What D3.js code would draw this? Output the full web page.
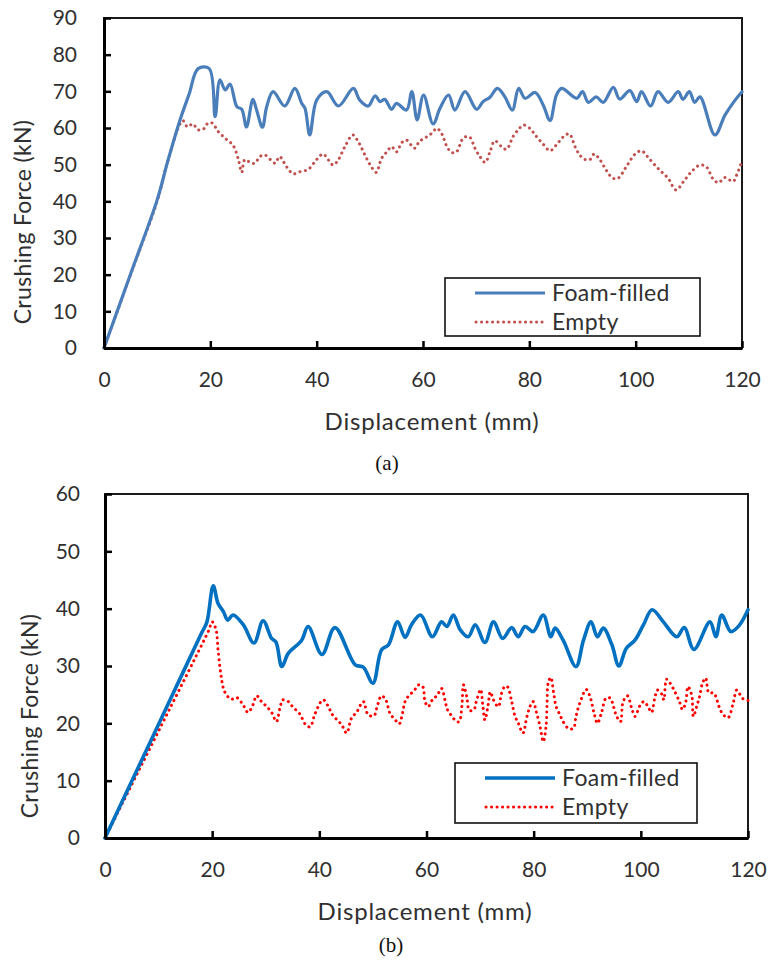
<!DOCTYPE html>
<html>
<head>
<meta charset="utf-8">
<script src="https://cdn.jsdelivr.net/npm/d3@7"></script>
<style>
  html, body { margin: 0; padding: 0; background: #fff; }
  svg { display: block; }
</style>
</head>
<body>
<svg id="chart" width="771" height="963"></svg>
<script>
// Tick values
const dispTicks = [0, 20, 40, 60, 80, 100, 120];
const forceTicksA = [0, 10, 20, 30, 40, 50, 60, 70, 80, 90];
const forceTicksB = [0, 10, 20, 30, 40, 50, 60];
const seriesNames = ["Foam-filled", "Empty"];

// Panel (a): [displacement mm, force kN]
const foamFilledA = [[0,0],[5,20.2],[10,40.4],[12,51],[14.3,62.2],[16,69.2],[17.7,76.2],[19.8,76.2],[20.9,63.1],[21.8,73.1],[22.8,70.4],[23.7,72],[25,65.8],[25.9,65.1],[26.8,60.3],[28,67.8],[28.7,64.9],[29.8,60.2],[30.6,65.8],[31.8,69.9],[34,66],[35.9,70.8],[37.2,66.7],[37.8,65.4],[38.7,58.1],[40,67.6],[41.9,69.9],[44.1,66],[46.9,70.8],[48.1,67.6],[49.7,66],[51,68.8],[51.9,67.2],[52.8,67.8],[54.1,65.1],[55,66.7],[56.9,64.9],[57.9,69.9],[58.9,62.2],[60.1,69],[61.9,61.1],[63.2,65.4],[64.8,69],[66,64.9],[67.9,69.9],[70.1,65.1],[71.3,67.2],[72.6,68.4],[74,70.8],[75.4,68.5],[76.8,64.9],[78,70.8],[79.2,68.1],[81.1,69.7],[82.6,66.3],[83.9,62],[85.1,69],[86.1,70.8],[88.9,68.1],[90,69.9],[91.1,67],[92.6,68.5],[93.9,67],[95.8,71.1],[97,67.9],[98.9,70.2],[100.2,67.2],[101.1,69.9],[102.8,66],[104.2,69.9],[106.1,67],[108,69.9],[108.9,67.8],[110.1,69.9],[111.1,67],[112.1,68.5],[114.9,58.1],[116.8,63.5],[118.7,67.6],[120,69.9]];
const emptyA = [[0,0],[5,20],[10,40],[12,51],[14.8,62],[15.7,60.3],[16.7,61.1],[17.7,59.5],[18.7,59.7],[19.6,61.4],[20.4,61.3],[21.5,59],[22.8,57.2],[24.3,55.2],[25.3,51.3],[25.9,47.9],[26.5,51.4],[27.5,50.6],[28.4,50.4],[29.3,52.2],[30.3,52.6],[32.2,50.4],[33,52.2],[34.4,49.3],[35.6,47.5],[36.9,48.1],[38.4,48.7],[40,51.4],[41.2,52.9],[42.2,51.3],[43.1,49.9],[44.1,51.4],[45.3,54.9],[46.8,58.1],[47.8,56.3],[49.4,51.7],[50.3,49.4],[51.2,47.9],[52.2,51.7],[53.2,53.5],[54.1,54.9],[55,53.5],[56,56],[56.9,56.7],[57.9,55.1],[58.5,54.5],[59.3,56.3],[60.4,57.3],[61.6,58.5],[62.6,59.9],[63.5,58.5],[64.5,54.9],[65.4,53.3],[66.3,53.5],[67.6,57.3],[68.7,57.6],[69.8,54.4],[70.7,52.2],[71.7,50.6],[72.6,53.5],[73.5,56.5],[74.8,54.9],[75.7,54.2],[77,57.8],[77.9,59.5],[78.9,60.8],[80.1,59.9],[81.1,58.1],[82.6,55.6],[83.9,53.8],[85.1,55.4],[86.4,57.6],[87.5,58.4],[88.6,54.9],[89.5,52.6],[90.5,51.4],[91.4,51.4],[92.2,52.9],[93.3,51.3],[94.5,48.4],[95.7,46.3],[96.7,46.3],[98.3,49.6],[99.9,52.9],[101.1,53.8],[102.1,52.4],[103.3,50.4],[104.6,48.4],[106.1,46.3],[107.6,43.1],[109,45.4],[110.5,48.1],[112.1,49.9],[113.3,49.4],[114.6,46],[115.6,45.1],[116.8,46.5],[118.3,45.4],[119,47.2],[120,51]];

// Panel (b)
const foamFilledB = [[0,0],[6,11.9],[12,23.8],[18,35.7],[19,37.6],[20.2,44],[21.1,40.9],[22.1,39.5],[22.9,38],[23.9,38.9],[25.8,37.2],[27.8,34],[29.5,37.9],[31.1,34.8],[31.9,34.2],[33,29.9],[34.2,32.2],[36.7,34.5],[37.9,36.9],[40.5,32],[42.9,36.7],[46.7,30.2],[48.2,29.8],[50,27],[51.6,32.8],[52.9,33.7],[54.6,37.7],[56,35],[57.2,37.2],[58.9,38.9],[61.1,35.1],[62.8,37.7],[63.8,36.9],[65,38.9],[66.3,36.3],[67.8,35.1],[69.1,37.2],[70.9,34.1],[72.5,37.7],[74.2,34.8],[75.9,36.7],[77.1,35.1],[78.4,36.9],[79.9,36],[81.8,38.9],[83.2,35.1],[84,36.6],[85.5,34.5],[87.9,29.9],[89.3,34.5],[90.7,37.7],[91.9,35.1],[93,36.6],[94.6,33.7],[95.9,30],[97.3,33.1],[98.9,34.5],[100.5,37.2],[102.1,39.8],[104.2,37.7],[106.7,35.1],[108.1,36.7],[109.9,32.9],[112.9,37.7],[114,35.1],[115.1,38.9],[116.8,36],[118.3,37],[120,39.8]];
const emptyB = [[0,0],[6,11.2],[12,22.4],[18,33.6],[19.4,36.3],[20,37.7],[20.7,36.4],[21.1,32.8],[21.6,28.7],[22.1,26.1],[22.7,24.9],[23.6,24.2],[24.6,24.5],[25.9,23],[26.7,21.9],[27.6,23.2],[28.3,24.8],[29.2,23.8],[30.2,22.9],[31.1,21.9],[32,20.3],[32.7,22.9],[33.2,24.1],[34.2,23.8],[35.1,22.8],[36.3,21.7],[37.5,19.7],[38.3,19.4],[39.2,21.7],[40.7,24.1],[41.7,22.9],[42.3,21.7],[43.2,20.7],[44.2,19.7],[45.1,18.3],[46,20.9],[47,22],[48.2,23.8],[49.1,21.5],[50.2,21.3],[50.7,22.6],[51.6,24.8],[52.4,24.1],[53.2,21.7],[54.1,20.7],[54.9,19.9],[55.4,21.2],[56,23.8],[56.6,24.7],[57.7,25.7],[58.5,26.7],[59.3,26.4],[59.7,23.9],[60.3,22.9],[61.1,24.1],[62,24.9],[62.8,26.1],[63.5,23.8],[63.9,22.4],[64.7,21.3],[65.6,20.3],[66.1,20.3],[66.6,22.9],[66.9,26.7],[67.5,24.7],[68,22.3],[68.8,22.3],[69.3,23.8],[70.1,25.9],[70.5,23.2],[70.9,20.6],[71.5,23.2],[71.9,25.5],[72.5,24.1],[73.4,22.9],[74,25.2],[74.6,26.4],[75.1,26.4],[75.9,23.8],[76.5,21.3],[77.1,20.1],[78,18.3],[78.7,21],[79.3,22.9],[79.9,23.8],[80.5,22],[81.2,19.4],[81.8,16.8],[82.3,19.4],[82.5,23.2],[82.7,27],[83.2,28],[83.7,25.5],[84.2,22.9],[84.9,21.5],[85.5,20.3],[86.5,19.1],[87.4,19.1],[87.9,21.2],[88.6,23.5],[89.8,25.9],[90.5,24.7],[91.3,21.7],[91.9,20],[92.7,22],[93.5,24.4],[94.3,24.4],[94.9,22.9],[95.5,21.2],[96.2,20.3],[96.7,23.8],[97.5,24.8],[98.3,22.6],[98.9,21.2],[99.9,23.2],[100.6,23.8],[101.4,22.8],[102,21.9],[102.6,24.4],[103.1,25.8],[103.9,25.1],[104.3,24.1],[104.8,27.7],[105.4,27.1],[106.2,25.8],[107.2,23.8],[107.8,22.4],[108.4,23.8],[108.8,26.4],[109.5,24.9],[109.8,21.2],[110.5,23.2],[111,24.8],[111.5,27],[112.1,27.9],[112.7,25.3],[113.6,25.3],[114.6,22.9],[115.3,21.6],[116.3,21],[117.2,23.4],[117.9,25.8],[118.6,24.9],[119.3,24.1],[120,24]];

const svg = d3.select("#chart");
const sans = "Lato, 'Open Sans', sans-serif";
const textColor = "#303030";

function drawPanel(p) {
  const x = d3.scaleLinear().domain([0, 120]).range([p.left, p.right]);
  const y = d3.scaleLinear().domain([0, p.yMax]).range([p.bottom, p.top]);
  const g = svg.append("g");

  // plot frame
  g.append("rect")
    .attr("x", p.left).attr("y", p.top)
    .attr("width", p.right - p.left).attr("height", p.bottom - p.top)
    .attr("fill", "none").attr("stroke", "#1a1a1a").attr("stroke-width", 2);

  const line = d3.line().x(d => x(d[0])).y(d => y(d[1])).curve(d3.curveCatmullRom.alpha(0.5));

  g.append("path").datum(p.empty)
    .attr("d", line).attr("fill", "none")
    .attr("stroke", p.redColor).attr("stroke-width", 3)
    .attr("stroke-linecap", "round")
    .attr("stroke-dasharray", "0.1 5.4");

  g.append("path").datum(p.foam)
    .attr("d", line).attr("fill", "none")
    .attr("stroke", p.blueColor).attr("stroke-width", p.blueWidth)
    .attr("stroke-linejoin", "round").attr("stroke-linecap", "round");

  // axes with inward ticks
  const xAxis = g.append("g").attr("transform", `translate(0,${p.bottom})`)
    .call(d3.axisBottom(x).tickValues(dispTicks).tickSizeInner(-7).tickSizeOuter(0).tickPadding(p.xPad));
  const yAxis = g.append("g").attr("transform", `translate(${p.left},0)`)
    .call(d3.axisLeft(y).tickValues(p.yTicks).tickSizeInner(-7).tickSizeOuter(0).tickPadding(p.yPad));
  [xAxis, yAxis].forEach(a => {
    a.select(".domain").attr("stroke", "#000").attr("stroke-width", 3);
    a.selectAll(".tick line").attr("stroke", "#000").attr("stroke-width", 2.5);
    a.selectAll(".tick text").attr("fill", textColor)
      .style("font-family", sans).style("font-size", "21px");
  });

  // axis titles
  g.append("text").attr("x", p.xTitleX).attr("y", p.xTitleY)
    .attr("text-anchor", "middle").attr("fill", textColor)
    .style("font-family", sans).style("font-size", "24px").style("letter-spacing", "0.8px")
    .text("Displacement (mm)");
  g.append("text")
    .attr("transform", `translate(${p.yTitleX},${p.yTitleY}) rotate(-90)`)
    .attr("text-anchor", "middle").attr("fill", textColor)
    .style("font-family", sans).style("font-size", "23px").style("letter-spacing", "0.3px")
    .text("Crushing Force (kN)");

  // legend
  const L = p.legend;
  g.append("rect").attr("x", L.x).attr("y", L.y).attr("width", L.w).attr("height", L.h)
    .attr("fill", "#fff").attr("stroke", "#111").attr("stroke-width", 1.6);
  g.append("line").attr("x1", L.x + 30).attr("x2", L.x + 100)
    .attr("y1", L.y + 15).attr("y2", L.y + 15)
    .attr("stroke", p.blueColor).attr("stroke-width", p.blueWidth);
  g.append("line").attr("x1", L.x + 31).attr("x2", L.x + 100)
    .attr("y1", L.y + 44).attr("y2", L.y + 44)
    .attr("stroke", p.redColor).attr("stroke-width", 3)
    .attr("stroke-linecap", "round").attr("stroke-dasharray", "0.1 5.4");
  seriesNames.forEach((name, i) => {
    g.append("text").attr("x", L.x + 107).attr("y", L.y + 23 + i * 29)
      .attr("fill", textColor)
      .style("font-family", sans).style("font-size", "23px").style("letter-spacing", "0.4px")
      .text(name);
  });

  // caption
  g.append("text").attr("x", p.capX).attr("y", p.capY)
    .attr("text-anchor", "middle").attr("fill", "#111")
    .style("font-family", "'Liberation Serif', 'DejaVu Serif', serif").style("font-size", "21px")
    .text(p.caption);
}

drawPanel({
  left: 104, right: 742, top: 18, bottom: 348, yMax: 90, yTicks: forceTicksA,
  foam: foamFilledA, empty: emptyA,
  blueColor: "#4a7ebb", redColor: "#c0504d", blueWidth: 3.2,
  xPad: 24, yPad: 27,
  xTitleX: 432, xTitleY: 430, yTitleX: 31, yTitleY: 222,
  legend: { x: 445, y: 278, w: 255, h: 58 },
  caption: "(a)", capX: 387, capY: 470
});

drawPanel({
  left: 105, right: 748, top: 494, bottom: 838, yMax: 60, yTicks: forceTicksB,
  foam: foamFilledB, empty: emptyB,
  blueColor: "#0070c0", redColor: "#ff0000", blueWidth: 3.6,
  xPad: 24, yPad: 25,
  xTitleX: 425, xTitleY: 920, yTitleX: 38, yTitleY: 716,
  legend: { x: 455, y: 763, w: 242, h: 60 },
  caption: "(b)", capX: 391, capY: 952
});
</script>
</body>
</html>
